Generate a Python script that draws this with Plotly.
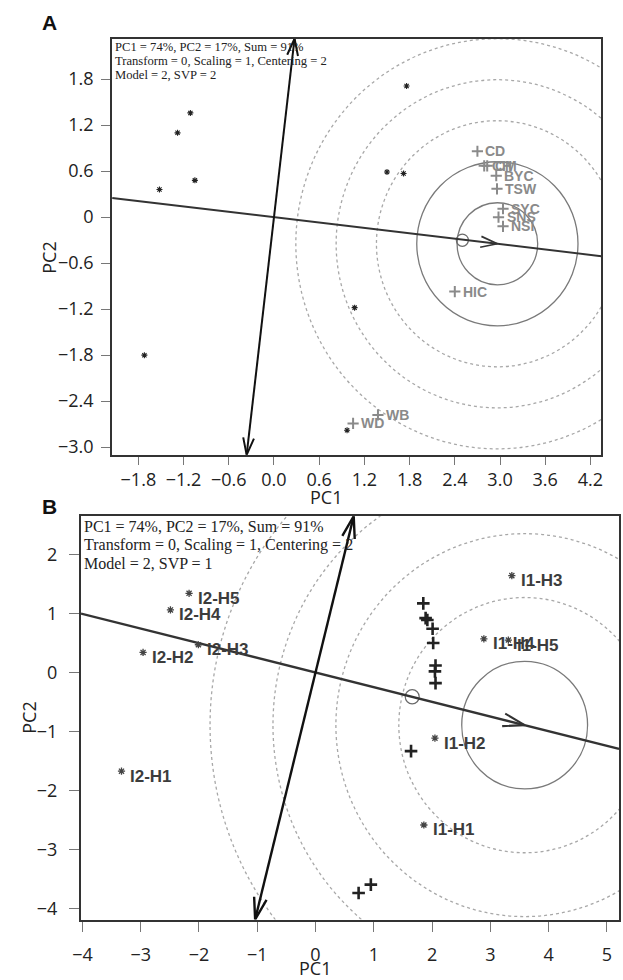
import math
import plotly.graph_objects as go

W, H = 623, 980

# ---------------- Panel A data ----------------
a_env_x = [-1.11, -1.28, -1.05, -1.52, -1.72, 1.76, 1.50, 1.72, 1.07, 0.97]
a_env_y = [1.36, 1.10, 0.48, 0.36, -1.80, 1.71, 0.59, 0.57, -1.18, -2.78]

a_trait_names = ["CD", "CH", "CM", "BYC", "TSW", "SYC", "SNS", "NSI", "HIC", "WD", "WB"]
a_trait_x = [2.70, 2.79, 2.83, 2.95, 2.96, 3.04, 2.98, 3.04, 2.40, 1.05, 1.38]
a_trait_y = [0.86, 0.67, 0.67, 0.54, 0.37, 0.11, 0.00, -0.12, -0.97, -2.69, -2.58]

a_center = (2.965, -0.347)      # average environment point
a_ring_unit = 0.535
a_solid_rings = [1, 2]
a_dashed_rings = [3, 4, 5]
a_small = (2.50, -0.30)
a_small_r = 0.08

a_xrange = [-2.148, 4.345]
a_yrange = [-3.10, 2.33]
a_xticks = [-1.8, -1.2, -0.6, 0.0, 0.6, 1.2, 1.8, 2.4, 3.0, 3.6, 4.2]
a_xticktext = ["\u22121.8", "\u22121.2", "\u22120.6", "0.0", "0.6", "1.2", "1.8", "2.4", "3.0", "3.6", "4.2"]
a_yticks = [1.8, 1.2, 0.6, 0.0, -0.6, -1.2, -1.8, -2.4, -3.0]
a_yticktext = ["1.8", "1.2", "0.6", "0", "\u22120.6", "\u22121.2", "\u22121.8", "\u22122.4", "\u22123.0"]
a_info = ["PC1 = 74%, PC2 = 17%, Sum = 91%",
          "Transform = 0, Scaling = 1, Centering = 2",
          "Model = 2, SVP = 2"]

# ---------------- Panel B data ----------------
b_gen_names = ["I2-H5", "I2-H4", "I2-H2", "I2-H3", "I2-H1",
               "I1-H3", "I1-H4", "I1-H5", "I1-H2", "I1-H1"]
b_gen_x = [-2.17, -2.49, -2.96, -2.01, -3.33, 3.37, 2.89, 3.31, 2.05, 1.86]
b_gen_y = [1.34, 1.06, 0.34, 0.47, -1.67, 1.64, 0.57, 0.55, -1.11, -2.58]

b_trait_x = [1.85, 1.89, 1.92, 2.01, 2.02, 2.06, 2.05, 2.06, 1.64, 0.74, 0.95]
b_trait_y = [1.17, 0.92, 0.89, 0.74, 0.50, 0.12, 0.02, -0.18, -1.33, -3.73, -3.59]

b_center = (3.59, -0.89)
b_ring_unit = 1.08
b_solid_rings = [1]
b_dashed_rings = [2, 3, 4, 5]
b_small = (1.66, -0.41)
b_small_r = 0.12

b_xrange = [-4.025, 5.21]
b_yrange = [-4.18, 2.646]
b_xticks = [-4, -3, -2, -1, 0, 1, 2, 3, 4, 5]
b_xticktext = ["\u22124", "\u22123", "\u22122", "\u22121", "0", "1", "2", "3", "4", "5"]
b_yticks = [2, 1, 0, -1, -2, -3, -4]
b_yticktext = ["2", "1", "0", "\u22121", "\u22122", "\u22123", "\u22124"]
b_info = ["PC1 = 74%, PC2 = 17%, Sum = 91%",
          "Transform = 0, Scaling = 1, Centering = 2",
          "Model = 2, SVP = 1"]

# ---------------- layout geometry (pixels) ----------------
A_BOX = dict(l=105, r=603, t=38.7, b=456.7)
B_BOX = dict(l=73.3, r=621, t=518.3, b=923.3)

def px_x(v):
    return v / W

def px_y(v):
    return 1 - v / H

def scales(box, xr, yr):
    return (box["r"] - box["l"]) / (xr[1] - xr[0]), (box["b"] - box["t"]) / (yr[1] - yr[0])

fig = go.Figure()

def vhead(tip, d, sx, sy, L, Wd):
    dx, dy = d[0] * sx, d[1] * sy
    n = math.hypot(dx, dy)
    ux, uy = dx / n, dy / n
    bx, by = -ux * L, -uy * L
    pxp, pyp = -uy * Wd, ux * Wd
    a1 = (tip[0] + (bx + pxp) / sx, tip[1] + (by + pyp) / sy)
    a2 = (tip[0] + (bx - pxp) / sx, tip[1] + (by - pyp) / sy)
    return [a1[0], tip[0], a2[0]], [a1[1], tip[1], a2[1]]

def panel(xa, ya, box, xr, yr, center, unit, solid, dashed, small, small_r,
          axis_w, head_L, head_W, dark):
    sx, sy = scales(box, xr, yr)
    cx, cy = center
    slope = cy / cx
    perp = -1 / slope
    shapes = []
    for k in dashed:
        r = k * unit
        shapes.append(dict(type="circle", xref=xa, yref=ya, x0=cx - r, x1=cx + r,
                           y0=cy - r, y1=cy + r, layer="below",
                           line=dict(color="#a8a8a8", width=1.3, dash="3px,3px")))
    for k in solid:
        r = k * unit
        shapes.append(dict(type="circle", xref=xa, yref=ya, x0=cx - r, x1=cx + r,
                           y0=cy - r, y1=cy + r, layer="below",
                           line=dict(color="#7a7a7a", width=1.3)))
    shapes.append(dict(type="circle", xref=xa, yref=ya,
                       x0=small[0] - small_r, x1=small[0] + small_r,
                       y0=small[1] - small_r * sx / sy, y1=small[1] + small_r * sx / sy,
                       layer="below", line=dict(color="#6a6a6a", width=1.2)))
    # average-environment axis
    fig.add_trace(go.Scatter(x=[xr[0], xr[1]], y=[slope * xr[0], slope * xr[1]],
                             mode="lines", line=dict(color="#333333", width=axis_w),
                             xaxis=xa, yaxis=ya, showlegend=False, hoverinfo="skip"))
    # arrowhead at average environment
    hx, hy = vhead(center, (1, slope), sx, sy, head_L, head_W)
    fig.add_trace(go.Scatter(x=hx, y=hy, mode="lines",
                             line=dict(color="#333333", width=axis_w * 0.85),
                             xaxis=xa, yaxis=ya, showlegend=False, hoverinfo="skip"))
    # perpendicular double arrow
    top = (yr[1] / perp, yr[1])
    bot = (yr[0] / perp, yr[0])
    fig.add_trace(go.Scatter(x=[bot[0], top[0]], y=[bot[1], top[1]], mode="lines",
                             line=dict(color=dark, width=axis_w),
                             xaxis=xa, yaxis=ya, showlegend=False, hoverinfo="skip"))
    for tip, d in ((top, (1, perp)), (bot, (-1, -perp))):
        hx, hy = vhead(tip, d, sx, sy, head_L, head_W)
        fig.add_trace(go.Scatter(x=hx, y=hy, mode="lines",
                                 line=dict(color=dark, width=axis_w),
                                 xaxis=xa, yaxis=ya, showlegend=False, hoverinfo="skip",
                                 cliponaxis=False))
    return shapes

shapes = []
shapes += panel("x", "y", A_BOX, a_xrange, a_yrange, a_center, a_ring_unit,
                a_solid_rings, a_dashed_rings, a_small, a_small_r, 2.0, 17, 5.5, "#111111")
shapes += panel("x2", "y2", B_BOX, b_xrange, b_yrange, b_center, b_ring_unit,
                b_solid_rings, b_dashed_rings, b_small, b_small_r, 2.4, 22, 6.5, "#111111")

# Panel A points
fig.add_trace(go.Scatter(x=a_env_x, y=a_env_y, mode="markers", xaxis="x", yaxis="y",
                         marker=dict(symbol="asterisk-open", size=5, color="#222222",
                                     line=dict(width=1.1, color="#222222")),
                         showlegend=False, hoverinfo="skip"))
fig.add_trace(go.Scatter(x=a_trait_x, y=a_trait_y, mode="markers", xaxis="x", yaxis="y",
                         marker=dict(symbol="cross-thin-open", size=8, color="#8a8a8a",
                                     line=dict(width=2, color="#8a8a8a")),
                         showlegend=False, hoverinfo="skip"))
# Panel B points
fig.add_trace(go.Scatter(x=b_trait_x, y=b_trait_y, mode="markers", xaxis="x2", yaxis="y2",
                         marker=dict(symbol="cross-thin-open", size=9, color="#222222",
                                     line=dict(width=2.6, color="#222222")),
                         showlegend=False, hoverinfo="skip"))
fig.add_trace(go.Scatter(x=b_gen_x, y=b_gen_y, mode="markers", xaxis="x2", yaxis="y2",
                         marker=dict(symbol="asterisk-open", size=6, color="#444444",
                                     line=dict(width=1.3, color="#444444")),
                         showlegend=False, hoverinfo="skip"))

ann = []
for n, x, y in zip(a_trait_names, a_trait_x, a_trait_y):
    ann.append(dict(x=x, y=y, xref="x", yref="y", text=n, showarrow=False,
                    xanchor="left", yanchor="middle", xshift=6, yshift=0,
                    font=dict(family="Liberation Sans, Arial", size=14, color="#8a8a8a",
                              weight="bold")))
for n, x, y in zip(b_gen_names, b_gen_x, b_gen_y):
    ann.append(dict(x=x, y=y, xref="x2", yref="y2", text=n, showarrow=False,
                    xanchor="left", yanchor="middle", xshift=7, yshift=-5,
                    font=dict(family="Liberation Sans, Arial", size=17, color="#3c3c3c",
                              weight="bold")))

serif = "Liberation Serif, Times New Roman, serif"
for t, yy in zip(a_info, [46.7, 61.0, 75.5]):
    ann.append(dict(x=px_x(106), y=px_y(yy), xref="paper", yref="paper", text=t,
                    showarrow=False, xanchor="left", yanchor="middle",
                    font=dict(family=serif, size=12.6, color="#222222")))
for t, yy in zip(b_info, [529.0, 547.3, 565.7]):
    ann.append(dict(x=px_x(74), y=px_y(yy), xref="paper", yref="paper", text=t,
                    showarrow=False, xanchor="left", yanchor="middle",
                    font=dict(family=serif, size=16, color="#222222")))

sans = "Open Sans, Liberation Sans, Arial"
for t, x, y in (("A", 41, 23), ("B", 41, 509)):
    ann.append(dict(x=px_x(x), y=px_y(y), xref="paper", yref="paper", text=t,
                    showarrow=False, xanchor="center", yanchor="middle",
                    font=dict(family="Liberation Sans, Arial", size=21, color="#111111",
                              weight="bold")))
for t, x, y, ang in (("PC1", 322.5, 499, 0), ("PC2", 40.5, 259, -90),
                     ("PC1", 311, 972, 0), ("PC2", 20, 721, -90)):
    ann.append(dict(x=px_x(x), y=px_y(y), xref="paper", yref="paper", text=t,
                    showarrow=False, xanchor="center", yanchor="middle", textangle=ang,
                    font=dict(family=sans, size=18, color="#222222")))

def axis(domain, rng, tv, tt, anchor, ticklen, standoff):
    return dict(domain=domain, range=rng, tickvals=tv, ticktext=tt, anchor=anchor,
                showgrid=False, zeroline=False, showline=True, mirror=True,
                linecolor="#333333", linewidth=2, ticks="outside", ticklen=ticklen,
                tickcolor="#777777", tickwidth=1.2,
                tickfont=dict(family=sans, size=18, color="#222222"),
                ticklabelstandoff=standoff)

fig.update_layout(
    width=W, height=H, margin=dict(l=0, r=0, t=0, b=0),
    paper_bgcolor="white", plot_bgcolor="white",
    xaxis=axis([px_x(A_BOX["l"]), px_x(A_BOX["r"])], a_xrange, a_xticks, a_xticktext, "y", 8, 0),
    yaxis=axis([px_y(A_BOX["b"]), px_y(A_BOX["t"])], a_yrange, a_yticks, a_yticktext, "x", 9, 4),
    xaxis2=axis([px_x(B_BOX["l"]), px_x(B_BOX["r"])], b_xrange, b_xticks, b_xticktext, "y2", 10, 8),
    yaxis2=axis([px_y(B_BOX["b"]), px_y(B_BOX["t"])], b_yrange, b_yticks, b_yticktext, "x2", 10, 8),
    shapes=shapes, annotations=ann,
)

fig.write_html("out.html")
